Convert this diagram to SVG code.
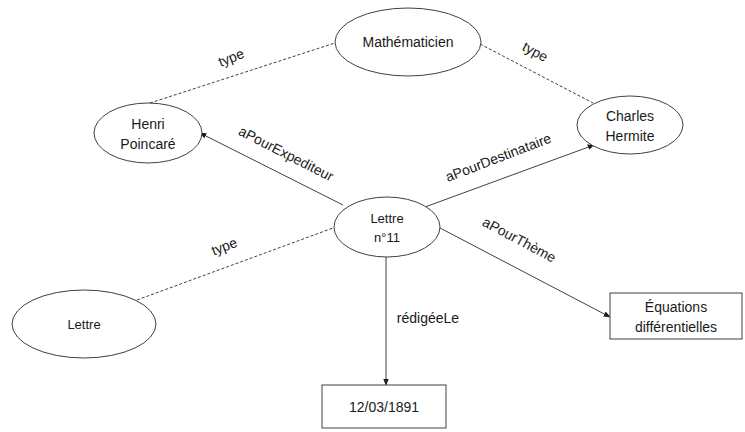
<svg xmlns="http://www.w3.org/2000/svg" width="745" height="432" viewBox="0 0 745 432">
<defs>
<style>
.n{fill:#fff;stroke:#404040;stroke-width:1}
.t{font-family:"Liberation Sans",Arial,sans-serif;font-size:14px;fill:#1a1a1a;text-anchor:middle}
.s{font-size:13px}
.e{stroke:#404040;stroke-width:1;fill:none}
.d{stroke-dasharray:3,2}
.a{marker-end:url(#arr)}
</style>
<marker id="arr" viewBox="0 0 10 10" refX="9" refY="5" markerWidth="7" markerHeight="7" orient="auto-start-reverse">
<path d="M0,1 L10,5 L0,9 z" fill="#1a1a1a"/>
</marker>
</defs>
<rect width="745" height="432" fill="#fff"/>
<g id="connectors">
<line class="e d" x1="150" y1="103" x2="335" y2="43"/>
<line class="e d" x1="480" y1="44" x2="593" y2="103"/>
<line class="e d" x1="137" y1="300" x2="333" y2="228"/>
<line class="e a" x1="343" y1="205" x2="200" y2="133"/>
<line class="e a" x1="425" y1="207" x2="594" y2="145"/>
<line class="e a" x1="440" y1="228" x2="610" y2="317"/>
<line class="e a" x1="386" y1="257" x2="386" y2="385"/>
<text class="t" transform="translate(233,62) rotate(-22)">type</text>
<text class="t" transform="translate(533,56) rotate(28)">type</text>
<text class="t" transform="translate(226,251) rotate(-21)">type</text>
<text class="t" transform="translate(284,158) rotate(27)">aPourExpediteur</text>
<text class="t" transform="translate(500,162) rotate(-21)">aPourDestinataire</text>
<text class="t" transform="translate(517,244) rotate(28)">aPourThème</text>
<text class="t" x="428" y="323">rédigéeLe</text>
</g>
<g id="mathematicien">
<ellipse class="n" cx="408" cy="42" rx="73" ry="34"/>
<text class="t" x="408" y="47">Mathématicien</text>
</g>
<g id="henri">
<ellipse class="n" cx="148" cy="133" rx="54" ry="30"/>
<text class="t" x="148" y="129">Henri</text>
<text class="t" x="148" y="149">Poincaré</text>
</g>
<g id="charles">
<ellipse class="n" cx="630" cy="125" rx="53" ry="29"/>
<text class="t" x="630" y="121">Charles</text>
<text class="t" x="630" y="141">Hermite</text>
</g>
<g id="lettre11">
<ellipse class="n" cx="387" cy="227" rx="53" ry="30"/>
<text class="t s" x="387" y="223">Lettre</text>
<text class="t s" x="387" y="242">n°11</text>
</g>
<g id="lettre">
<ellipse class="n" cx="84" cy="324" rx="72" ry="34"/>
<text class="t s" x="84" y="329">Lettre</text>
</g>
<g id="date">
<rect class="n" x="322" y="385" width="124" height="43"/>
<text class="t" x="384" y="412">12/03/1891</text>
</g>
<g id="equations">
<rect class="n" x="610" y="293" width="132" height="46"/>
<text class="t" x="676" y="312">Équations</text>
<text class="t" x="676" y="332">différentielles</text>
</g>
</svg>
